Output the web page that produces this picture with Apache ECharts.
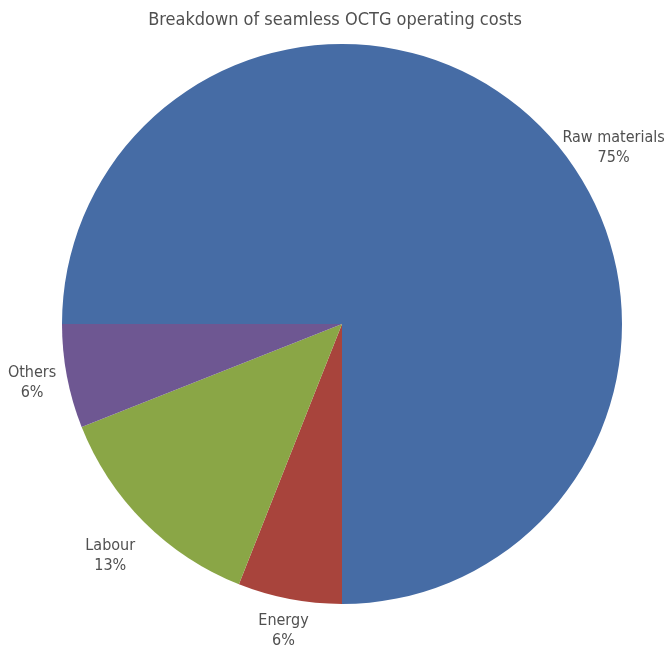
<!DOCTYPE html>
<html>
<head>
<meta charset="utf-8">
<script src="https://cdn.jsdelivr.net/npm/echarts@6/dist/echarts.min.js"></script>
<style>html,body{margin:0;padding:0;background:#fff}#c{width:670px;height:651px}</style>
</head>
<body>
<div id="c"></div>
<script>
var titleText = 'Breakdown of seamless OCTG operating costs';
var categories = ['Raw materials', 'Energy', 'Labour', 'Others'];
var values = [75, 6, 13, 6];
var colors = ['#466CA5', '#A8443C', '#8AA646', '#6E5792'];

var FONT = '"Liberation Sans Narrow", "DejaVu Sans Condensed", sans-serif';
var CX = 342, CY = 324, R = 280;

var chart = echarts.init(document.getElementById('c'));
chart.setOption({
  backgroundColor: '#fff',
  animation: false,
  title: {
    text: titleText, left: 'center', top: 6,
    textStyle: { fontFamily: FONT, fontSize: 18, fontWeight: 'normal', color: '#505050' }
  },
  series: [{
    type: 'pie',
    center: [CX, CY],
    radius: [0, R],
    startAngle: 180,
    clockwise: true,
    color: colors,
    itemStyle: { borderWidth: 0 },
    label: {
      show: true, position: 'outside',
      formatter: '{b}\n{c}%', overflow: 'none',
      fontFamily: FONT, fontSize: 16, color: '#505050', lineHeight: 20, align: 'center'
    },
    labelLine: { show: false, length: 10, length2: 0 },
    labelLayout: function (p) {
      var pts = p.labelLinePoints;
      if (!pts) return {};
      var dx = pts[0][0] - CX, dy = pts[0][1] - CY;
      var a = Math.atan2(dy, dx);
      var gap = 8;
      if (p.dataIndex === 0) { a += 12 * Math.PI / 180; gap = -10; }
      if (p.dataIndex === 2) { gap = 16; }
      var ux = Math.cos(a), uy = Math.sin(a);
      var hw = p.labelRect.width / 2, hh = p.labelRect.height / 2;
      var d = R + gap + hw * Math.abs(ux) + hh * Math.abs(uy);
      return { x: CX + ux * d, y: CY + uy * d, align: 'center', verticalAlign: 'middle' };
    },
    data: categories.map(function (c, i) { return { name: c, value: values[i] }; })
  }]
});
</script>
</body>
</html>
